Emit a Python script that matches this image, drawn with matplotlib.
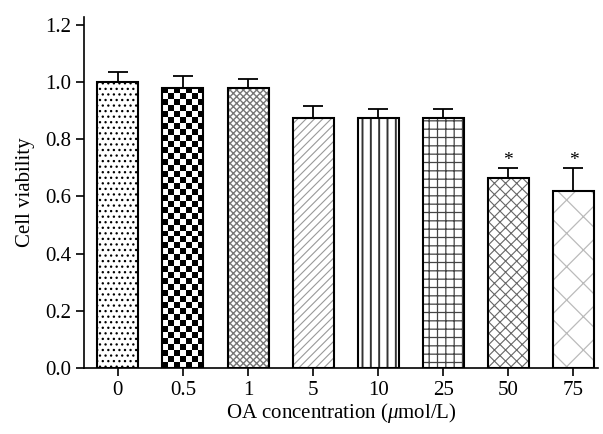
import matplotlib
matplotlib.use("Agg")
import matplotlib.pyplot as plt
import numpy as np

# OA concentration groups and measured viability
concentrations = ["0", "0.5", "1", "5", "10", "25", "50", "75"]
viability = [1.0, 0.98, 0.98, 0.875, 0.875, 0.875, 0.665, 0.62]
errors = [0.035, 0.04, 0.03, 0.04, 0.03, 0.03, 0.035, 0.08]
significant = [False, False, False, False, False, False, True, True]

# None -> checkerboard fill
hatches = ["...", None, "xxxxx", "////", "||", "++", "xxx", "/\\"]
hatch_colors = ["black", "black", "#777777", "#999999", "#333333", "#444444", "#666666", "#bbbbbb"]
hatch_widths = [0.9, 1.0, 1.0, 0.8, 1.4, 0.9, 0.8, 0.9]

plt.rcParams["font.family"] = ["Liberation Serif", "DejaVu Serif"]
plt.rcParams["mathtext.fontset"] = "custom"
plt.rcParams["mathtext.it"] = "Liberation Serif:italic"
plt.rcParams["mathtext.rm"] = "Liberation Serif"

fig = plt.figure(figsize=(6.03, 4.34), dpi=100)
ax = fig.add_axes([0.139, 0.152, 0.853, 0.809])

x = list(range(len(concentrations)))
for i in x:
    if hatches[i] is None:
        b = ax.bar(i, viability[i], width=0.63, facecolor="none", edgecolor="black",
                   linewidth=1.5, zorder=3)[0]
        rows, cols = 47, 7
        board = (np.add.outer(np.arange(rows), np.arange(cols)) % 2).astype(float)
        im = ax.imshow(board, cmap="gray", interpolation="nearest", aspect="auto",
                       extent=(b.get_x(), b.get_x() + b.get_width(), 0, b.get_height()),
                       origin="lower", zorder=2.5)
        im.set_clip_path(b)
    else:
        with plt.rc_context({"hatch.linewidth": hatch_widths[i]}):
            ax.bar(i, viability[i], width=0.63, facecolor="white", edgecolor=hatch_colors[i],
                   linewidth=0, hatch=hatches[i], zorder=2.5)
        ax.bar(i, viability[i], width=0.63, facecolor="none", edgecolor="black",
               linewidth=1.5, zorder=3)
    ax.errorbar(i, viability[i], yerr=[[0], [errors[i]]], fmt="none",
                ecolor="black", elinewidth=1.3, capsize=7, capthick=1.3, zorder=1)
    if significant[i]:
        ax.text(i, viability[i] + errors[i] - 0.005, "*", ha="center", va="bottom",
                fontsize=14)

ax.set_xlim(-0.523, 7.38)
ax.set_ylim(0, 1.227)
ax.set_yticks([0.0, 0.2, 0.4, 0.6, 0.8, 1.0, 1.2])
ax.set_yticklabels(["0.0", "0.2", "0.4", "0.6", "0.8", "1.0", "1.2"])
ax.set_xticks(x)
ax.set_xticklabels(concentrations)
ax.tick_params(direction="out", length=6, width=1.2, labelsize=15, pad=3)
for side in ["top", "right"]:
    ax.spines[side].set_visible(False)
for side in ["left", "bottom"]:
    ax.spines[side].set_linewidth(1.2)

ax.set_ylabel("Cell viability", fontsize=15, labelpad=7)
ax.set_xlabel("OA concentration ($\\mathit{\\mu}$mol/L)", fontsize=15, labelpad=1)

fig.savefig("out.png", dpi=100)
